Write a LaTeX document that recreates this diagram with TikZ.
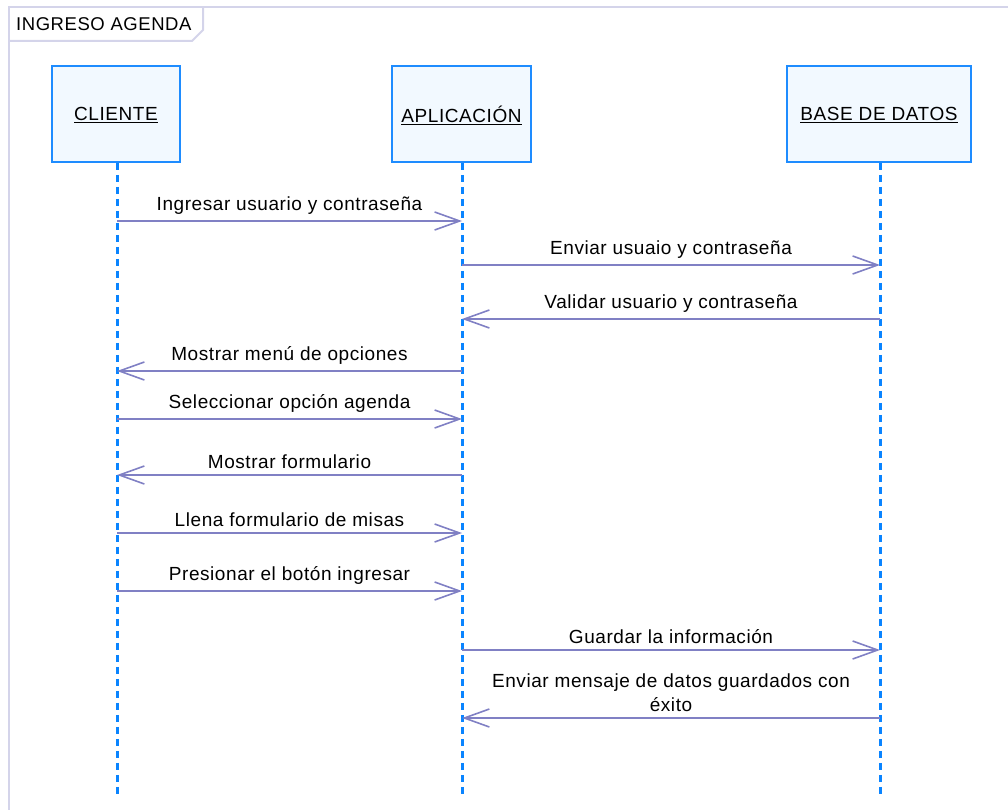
\documentclass[tikz,border=0pt]{standalone}
\usepackage{fontspec}
\setmainfont{Liberation Sans}[LetterSpace=3]
\usetikzlibrary{arrows.meta}
\definecolor{framecol}{HTML}{D4D4EA}
\definecolor{boxborder}{HTML}{1E8CFF}
\definecolor{boxfill}{HTML}{F2F9FF}
\definecolor{lifecol}{HTML}{0A84FF}
\definecolor{msgcol}{HTML}{8080C4}
\tikzset{
  actor/.style={draw=boxborder, line width=1.8pt, fill=boxfill, minimum height=96pt, inner sep=0pt, font=\fontsize{19}{22}\selectfont},
  lifeline/.style={draw=lifecol, line width=3pt, dash pattern=on 7pt off 5pt},
  msg/.style={draw=msgcol, line width=1.6pt, -{Straight Barb[length=25pt,width=18pt,line width=1.6pt]}},
  lbl/.style={font=\fontsize{19}{24}\selectfont, inner sep=0pt, align=center},
}
\begin{document}
\begin{tikzpicture}[x=1pt,y=-1pt]
\useasboundingbox (0,0) rectangle (1008,810);
% frame
\draw[framecol, line width=2pt] (1012,7) -- (9,7) -- (9,815);
\draw[framecol, line width=2pt] (9,41) -- (192,41) -- (203,30) -- (203,7);
\node[anchor=west, inner sep=0pt, font=\fontsize{18.5}{20}\selectfont] (title) at (16,24) {INGRESO AGENDA};
% actors
\node[actor, minimum width=128pt, text depth=-3pt] (cli) at (116,114) {\underline{CLIENTE}};
\node[actor, minimum width=139pt, text depth=-3pt] (app) at (461.5,114) {\underline{APLICACIÓN}};
\node[actor, minimum width=184pt, text depth=-3pt] (bd) at (879,114) {\underline{BASE DE DATOS}};
% lifelines
\coordinate (cliend) at (117,795);
\coordinate (append) at (462,795);
\coordinate (bdend) at (880,795);
\draw[lifeline] (cli.south) ++(1,0) -- (cliend);
\draw[lifeline] (app.south) ++(0.5,0) -- (append);
\draw[lifeline] (bd.south) ++(1,0) -- (bdend);
% messages
\newcommand{\msgline}[5]{%
  \coordinate (#1a) at (#2,#4);
  \coordinate (#1b) at (#3,#4);
  \draw[msg] (#1a) -- (#1b) node[lbl, midway, above=6pt] {#5};
}
\msgline{m1}{117}{462}{221}{Ingresar usuario y contraseña}
\msgline{m2}{462}{880}{265}{Enviar usuaio y contraseña}
\msgline{m3}{880}{462}{319}{Validar usuario y contraseña}
\msgline{m4}{462}{117}{371}{Mostrar menú de opciones}
\msgline{m5}{117}{462}{419}{Seleccionar opción agenda}
\msgline{m6}{462}{117}{475}{Mostrar formulario}
\msgline{m7}{117}{462}{533}{Llena formulario de misas}
\msgline{m8}{117}{462}{591}{Presionar el botón ingresar}
\msgline{m9}{462}{880}{650}{Guardar la información}
\msgline{m10}{880}{462}{718}{Enviar mensaje de datos guardados con\\éxito}
\end{tikzpicture}
\end{document}
